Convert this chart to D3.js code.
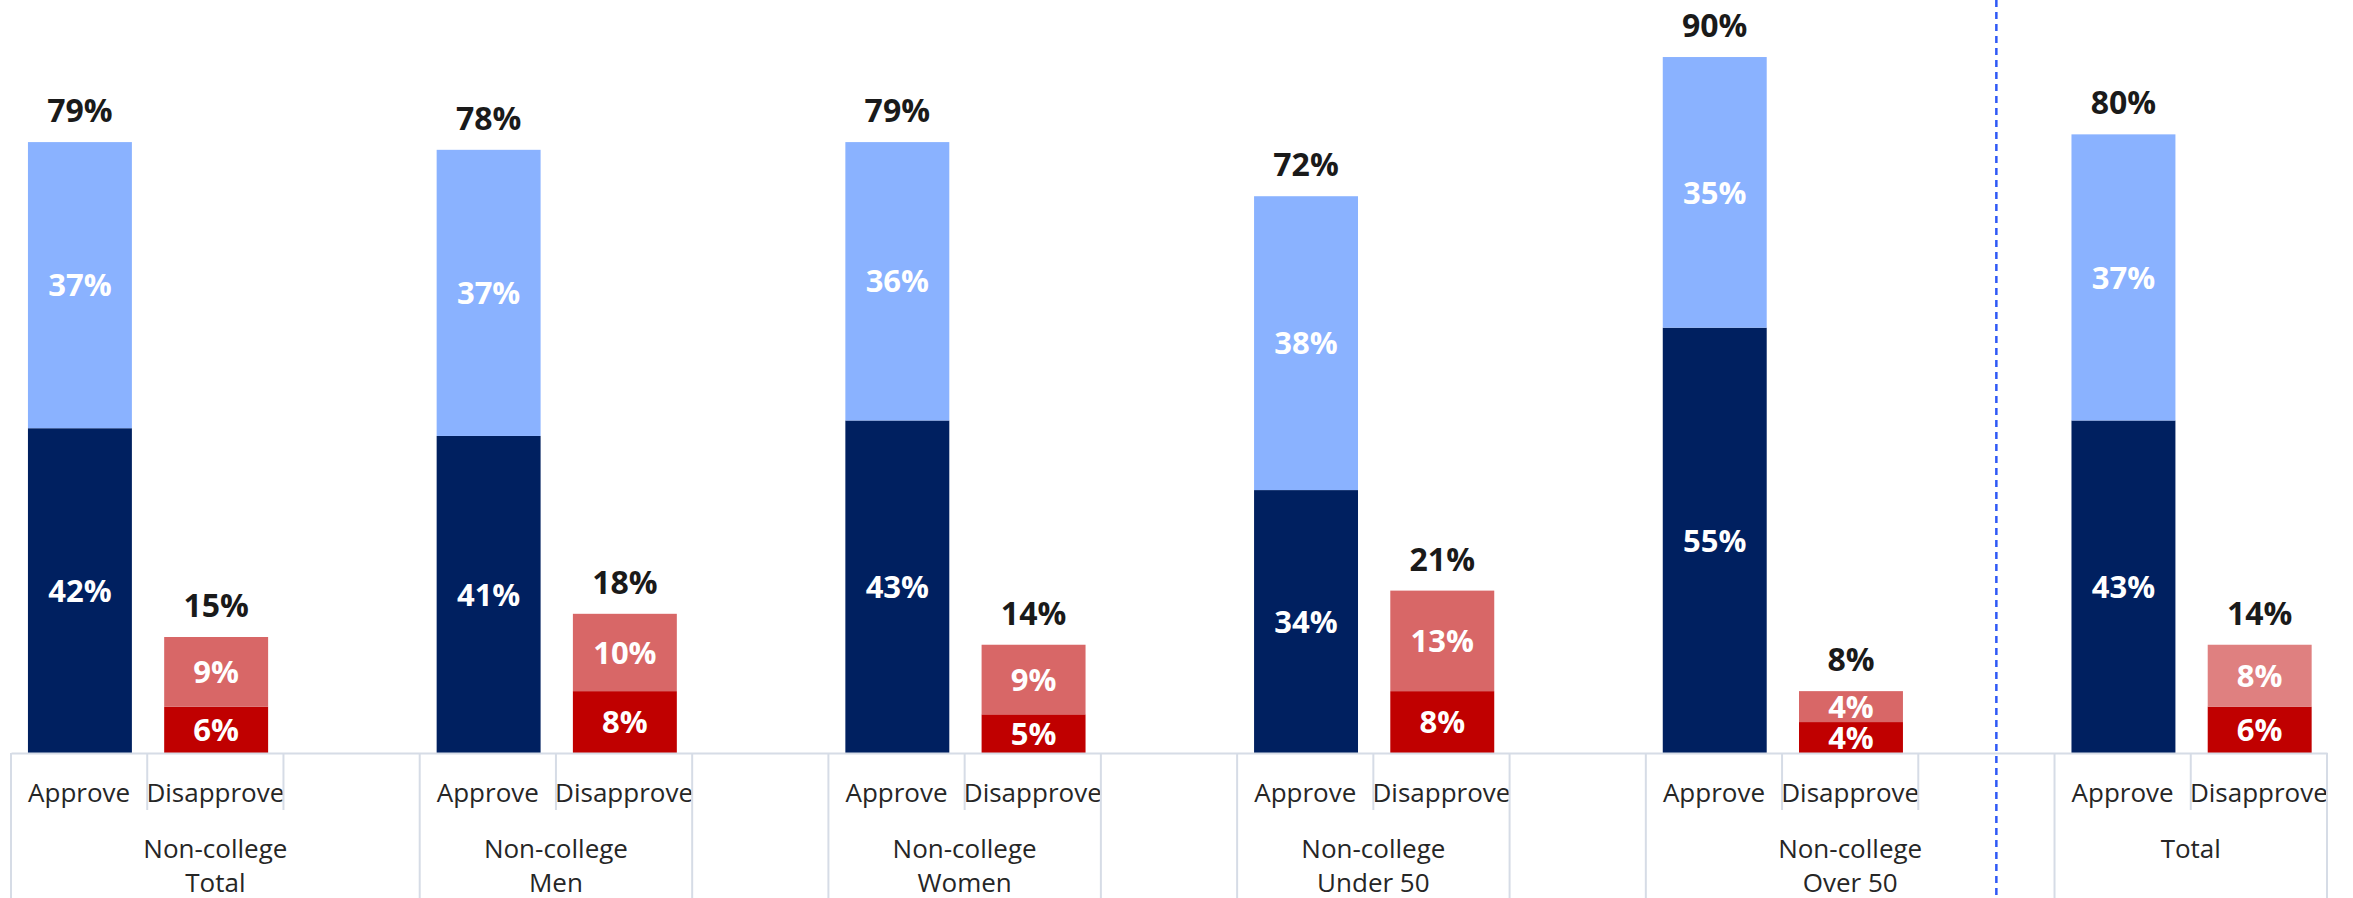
<!DOCTYPE html>
<html>
<head>
<meta charset="utf-8">
<script src="https://cdn.jsdelivr.net/npm/d3@7"></script>
<style>
  html, body { margin: 0; padding: 0; background: #ffffff; }
  svg { display: block; }
</style>
</head>
<body>
<svg id="chart" width="2353" height="898"></svg>
<script>
// ---- Data ----
const groupLabels = ["Non-college\nTotal", "Non-college\nMen", "Non-college\nWomen", "Non-college\nUnder 50", "Non-college\nOver 50", "Total"];
const approveStrong = [42, 41, 43, 34, 55, 43];
const approveSome   = [37, 37, 36, 38, 35, 37];
const approveTotal  = [79, 78, 79, 72, 90, 80];
const disStrong     = [6, 8, 5, 8, 4, 6];
const disSome       = [9, 10, 9, 13, 4, 8];
const disTotal      = [15, 18, 14, 21, 8, 14];
// category slots on the axis: group index (null = unlabeled spacer group) and sub label
const slotGroup = [0, 0, 0, 1, 1, null, 2, 2, null, 3, 3, null, 4, 4, 4, 5, 5];
const slotSub   = ["Approve", "Disapprove", "", "Approve", "Disapprove", "", "Approve", "Disapprove", "", "Approve", "Disapprove", "", "Approve", "Disapprove", "", "Approve", "Disapprove"];
const dividerSlot = 14;

// ---- Styles ----
const colors = {
  approveStrong: "#002060",
  approveSome: "#8AB2FF",
  disStrong: "#C00000",
  disSome: "#D86767",
  disSomeTotal: "#DF8080",
  axis: "#D6DCE6",
  text: "#262626",
  divider: "#2F59F5"
};
const FONT = "'Open Sans', 'Noto Sans', sans-serif";

const svg = d3.select("#chart");
const W = 2353, H = 898;
const baseY = 753;

const slots = d3.range(slotGroup.length);
const x = d3.scaleBand().domain(slots).range([11, 2327]).paddingInner(0).paddingOuter(0);
const y = d3.scaleLinear().domain([0, 100]).range([baseY, baseY - 773.3]);
const bw = x.bandwidth();
const barW = bw * 0.763;

// Build bar records
const bars = [];
groupLabels.forEach((g, gi) => {
  const aSlot = slots.find(s => slotGroup[s] === gi && slotSub[s] === "Approve");
  const dSlot = slots.find(s => slotGroup[s] === gi && slotSub[s] === "Disapprove");
  bars.push({slot: aSlot, segs: [
    {v0: 0, v1: approveStrong[gi], color: colors.approveStrong, label: approveStrong[gi]},
    {v0: approveStrong[gi], v1: approveStrong[gi] + approveSome[gi], color: colors.approveSome, label: approveSome[gi]}
  ], total: approveTotal[gi]});
  bars.push({slot: dSlot, segs: [
    {v0: 0, v1: disStrong[gi], color: colors.disStrong, label: disStrong[gi]},
    {v0: disStrong[gi], v1: disStrong[gi] + disSome[gi], color: gi === groupLabels.length - 1 ? colors.disSomeTotal : colors.disSome, label: disSome[gi]}
  ], total: disTotal[gi]});
});

const barX = s => x(s) + (bw - barW) / 2 + 0.8;

// Bars
const gBars = svg.append("g");
bars.forEach(b => {
  b.segs.forEach(sg => {
    gBars.append("rect")
      .attr("x", barX(b.slot))
      .attr("y", y(sg.v1))
      .attr("width", barW)
      .attr("height", y(sg.v0) - y(sg.v1))
      .attr("fill", sg.color);
  });
  b.segs.forEach(sg => {
    gBars.append("text")
      .attr("x", barX(b.slot) + barW / 2)
      .attr("y", (y(sg.v0) + y(sg.v1)) / 2)
      .attr("dy", "0.36em")
      .attr("text-anchor", "middle")
      .attr("font-family", FONT)
      .attr("font-weight", 700)
      .attr("font-size", 31)
      .attr("fill", "#ffffff")
      .text(sg.label + "%");
  });
  const top = b.segs[b.segs.length - 1].v1;
  gBars.append("text")
    .attr("x", barX(b.slot) + barW / 2)
    .attr("y", y(top) - 20)
    .attr("text-anchor", "middle")
    .attr("font-family", FONT)
    .attr("font-weight", 700)
    .attr("font-size", 32)
    .attr("fill", "#1a1a1a")
    .text(b.total + "%");
});

// Axis
const axis = d3.axisBottom(x).tickSize(0).tickSizeOuter(0).tickPadding(31).tickFormat(s => slotSub[s]);
const gAxis = svg.append("g").attr("transform", `translate(0,${baseY})`).call(axis);
gAxis.select(".domain").attr("stroke", colors.axis).attr("stroke-width", 2);
gAxis.selectAll("text")
  .attr("font-family", FONT)
  .attr("font-size", 26)
  .attr("fill", colors.text);

// Separators: full height at group changes, short otherwise
const bounds = d3.range(slots.length + 1);
bounds.forEach(i => {
  const bx = i < slots.length ? x(i) : x(slots.length - 1) + bw;
  const left = i > 0 ? slotGroup[i - 1] : undefined;
  const right = i < slots.length ? slotGroup[i] : undefined;
  const full = i === 0 || i === slots.length || left !== right || left === null;
  svg.append("line")
    .attr("x1", bx).attr("x2", bx)
    .attr("y1", baseY).attr("y2", full ? H : 810)
    .attr("stroke", colors.axis)
    .attr("stroke-width", 2);
});

// Group labels
groupLabels.forEach((g, gi) => {
  const s = slots.filter(k => slotGroup[k] === gi);
  const cx = (x(s[0]) + x(s[s.length - 1]) + bw) / 2;
  const t = svg.append("text")
    .attr("text-anchor", "middle")
    .attr("font-family", FONT)
    .attr("font-size", 26)
    .attr("fill", colors.text);
  g.split("\n").forEach((line, li) => {
    t.append("tspan").attr("x", cx).attr("y", 858 + li * 34).text(line);
  });
});

// Divider (dashed)
const dx = x(dividerSlot) + bw * 0.573;
svg.append("line")
  .attr("x1", dx).attr("x2", dx)
  .attr("y1", 0).attr("y2", H)
  .attr("stroke", colors.divider)
  .attr("stroke-width", 2.5)
  .attr("stroke-dasharray", "7,5");
</script>
</body>
</html>
